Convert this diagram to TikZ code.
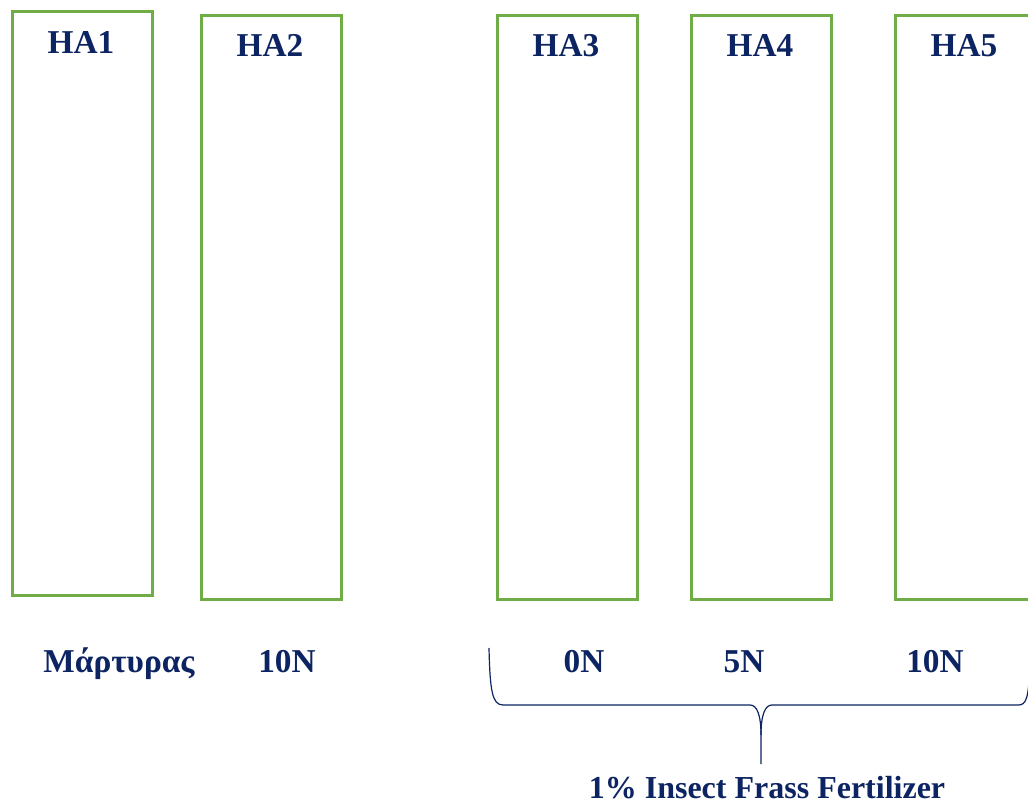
\documentclass[tikz,border=0pt]{standalone}
\usepackage{fontspec}
\setmainfont{Liberation Serif}
\definecolor{navy}{HTML}{0C2461}
\definecolor{boxgreen}{HTML}{70AD47}
\begin{document}
\begin{tikzpicture}[x=0.75pt,y=-0.75pt,
  plot/.style={draw=boxgreen,line width=2.2pt,minimum width=140*0.75pt,minimum height=584*0.75pt,inner sep=0pt,anchor=north west},
  lbl/.style={text=navy,font=\fontsize{25}{28}\selectfont\bfseries,anchor=base,inner sep=0pt},
  brace/.style={draw=navy,line width=0.9pt}]
\useasboundingbox (0,0) rectangle (1028,805);
\clip (0,0) rectangle (1028,805);
\fill[white] (0,0) rectangle (1028,805);
% plots
\node[plot] (b1) at (11,10) {};
\node[plot] (b2) at (200,14) {};
\node[plot] (b3) at (496,14) {};
\node[plot] (b4) at (690,14) {};
\node[plot] (b5) at (894,14) {};
% plot labels
\node[lbl] (h1) at (81,54) {HA1};
\node[lbl] (h2) at (270,57) {HA2};
\node[lbl] (h3) at (566,57) {HA3};
\node[lbl] (h4) at (760,57) {HA4};
\node[lbl] (h5) at (964,57) {HA5};
% treatment labels
\node[lbl] (t1) at (119,672) {Μάρτυρας};
\node[lbl] (t2) at (287,672) {10N};
\node[lbl] (t3) at (584,672) {0N};
\node[lbl] (t4) at (744,672) {5N};
\node[lbl] (t5) at (935,672) {10N};
% brace
\coordinate (bl) at (489,648);
\coordinate (bm) at (761,735);
\coordinate (bs) at (761,764);
\coordinate (br) at (1030,660);
\draw[brace] (bl) .. controls (490,690) and (492,705) .. (503,705) -- (750,705)
  .. controls (757,705) and (761,715) .. (bm) -- (bs);
\draw[brace] (bm) .. controls (761,715) and (765,705) .. (772,705) -- (1018,705)
  .. controls (1026,705) and (1029,700) .. (br);
% footer
\node[lbl,font=\fontsize{24}{28}\selectfont\bfseries] (ft) at (767,798) {1\% Insect Frass Fertilizer};
\end{tikzpicture}
\end{document}
